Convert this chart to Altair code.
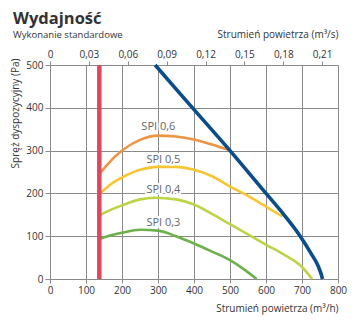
import altair as alt
import pandas as pd

# ---- data ----
spi06_x = [139, 160, 200, 250, 300, 350, 400, 450, 500]
spi06_y = [247, 268, 300, 325, 335, 333, 326, 314, 300]

spi05_x = [140, 170, 200, 250, 300, 350, 400, 450, 500, 550, 600, 645]
spi05_y = [200, 222, 237, 255, 262, 262, 255, 240, 216, 194, 169, 146]

spi04_x = [140, 170, 200, 250, 290, 350, 400, 450, 500, 550, 600, 650, 700, 728]
spi04_y = [150, 162, 172, 186, 190, 186, 174, 152, 128, 104, 80, 57, 28, 0]

spi03_x = [140, 170, 200, 250, 300, 350, 400, 450, 500, 540, 574]
spi03_y = [94, 102, 108, 115, 113, 100, 83, 64, 44, 22, 0]

max_x = [292, 380, 500, 600, 650, 695, 725, 745, 753, 757]
max_y = [500, 415, 300, 200, 150, 100, 60, 30, 12, 0]

min_flow = 137

label_text = ["SPI 0,6", "SPI 0,5", "SPI 0,4", "SPI 0,3"]
label_x = [301, 315, 315, 315]
label_y = [356, 278, 208, 131]

x_ticks = [0, 100, 200, 300, 400, 500, 600, 700, 800]
y_ticks = [0, 100, 200, 300, 400, 500]
top_ticks = [0, 0.03, 0.06, 0.09, 0.12, 0.15, 0.18, 0.21]

series_colors = {
    "SPI 0,6": "#ee9443",
    "SPI 0,5": "#f7c531",
    "SPI 0,4": "#bcd446",
    "SPI 0,3": "#6cb14b",
}

rows = []
for name, xs_, ys_ in [("SPI 0,6", spi06_x, spi06_y), ("SPI 0,5", spi05_x, spi05_y),
                       ("SPI 0,4", spi04_x, spi04_y), ("SPI 0,3", spi03_x, spi03_y)]:
    for a, b in zip(xs_, ys_):
        rows.append({"series": name, "q": a, "p": b})
df_spi = pd.DataFrame(rows)
df_max = pd.DataFrame({"q": max_x, "p": max_y})
df_red = pd.DataFrame({"q": [min_flow], "p": [0], "p2": [500]})
df_lab = pd.DataFrame({"t": label_text, "q": label_x, "p": label_y})
df_top = pd.DataFrame({"qs": [0, 800 / 3600]})

FONT = "Open Sans"
GRID = "#8a8a8a"

x_axis = alt.Axis(values=x_ticks, title="Strumień powietrza (m³/h)", grid=True,
                  gridColor=GRID, domainColor=GRID, tickColor=GRID, tickSize=4,
                  labelFontSize=10, labelColor="#333", labelFont=FONT, labelPadding=2,
                  labelOverlap=False, labelFlush=False,
                  titleFont=FONT, titleFontSize=10, titleFontWeight="normal",
                  titleColor="#333", titleAlign="right", titleAnchor="end",
                  titleX=288, titleY=32, titleBaseline="alphabetic")
y_axis = alt.Axis(values=y_ticks, title="Spręż dyspozycyjny (Pa)", grid=True,
                  gridColor=GRID, domainColor=GRID, tickColor=GRID, tickSize=5,
                  labelFontSize=10, labelColor="#333", labelFont=FONT, labelPadding=2,
                  labelOverlap=False, labelFlush=False,
                  titleFont=FONT, titleFontSize=10, titleFontWeight="normal",
                  titleColor="#333", titleAngle=-90, titleAlign="center",
                  titleX=-30, titleY=48, titleBaseline="bottom")

xs = alt.Scale(domain=[0, 800], nice=False)
ys = alt.Scale(domain=[0, 500], nice=False)
X = alt.X("q:Q", scale=xs, axis=x_axis)
Y = alt.Y("p:Q", scale=ys, axis=y_axis)

spi = alt.Chart(df_spi).mark_line(strokeWidth=2.6, interpolate="monotone").encode(
    x=X, y=Y,
    color=alt.Color("series:N", scale=alt.Scale(domain=list(series_colors.keys()),
                                                range=list(series_colors.values())),
                    legend=None),
    detail="series:N",
)

red = alt.Chart(df_red).mark_rule(color="#e0475e", strokeWidth=4.5).encode(
    x=X, y=Y, y2="p2:Q")

blue = alt.Chart(df_max).mark_line(color="#0b4c8b", strokeWidth=3.6,
                                   interpolate="monotone").encode(
    x=X, y=Y, order=alt.Order("p:Q", sort="descending"))

halo = alt.Chart(df_lab).mark_text(fontSize=11, font=FONT, color="white",
                                   stroke="white", strokeWidth=4).encode(
    x=X, y=Y, text="t:N")
labels = alt.Chart(df_lab).mark_text(fontSize=11, font=FONT, color="#666").encode(
    x=X, y=Y, text="t:N")

main = alt.layer(spi, red, blue, halo, labels)

top = alt.Chart(df_top).mark_point(opacity=0).encode(
    x=alt.X("qs:Q", scale=alt.Scale(domain=[0, 800 / 3600], nice=False, zero=True),
            axis=alt.Axis(orient="top", values=top_ticks, grid=False,
                          labelExpr="datum.value == 0 ? '0' : replace(format(datum.value, '.2f'), '.', ',')",
                          title="Strumień powietrza (m³/s)",
                          domain=False, tickColor=GRID, tickSize=4,
                          labelOverlap=False, labelFlush=False,
                          labelFontSize=10, labelColor="#333", labelFont=FONT,
                          labelPadding=2, titleFont=FONT, titleFontSize=10,
                          titleFontWeight="normal", titleColor="#333",
                          titleAlign="right", titleAnchor="end", titleX=288,
                          titleY=-28, titleBaseline="alphabetic")),
)

chart = alt.layer(main, top).resolve_scale(x="independent").properties(
    width=288, height=214,
    autosize=alt.AutoSizeParams(type="none"),
    padding={"left": 50, "top": 65, "right": 22, "bottom": 42},
    background="white",
    title=alt.TitleParams(text="Wydajność", subtitle="Wykonanie standardowe",
                          anchor="start", frame="group", dx=-37, dy=14,
                          font=FONT, fontSize=16.5, fontWeight="bold", color="#333",
                          subtitleFont=FONT, subtitleFontSize=9.5, subtitleColor="#333",
                          subtitlePadding=2, offset=4),
).configure_view(stroke=None).configure_axis(labelOverlap=False)

chart.save("out.html", embed_options={"renderer": "svg", "actions": False})
